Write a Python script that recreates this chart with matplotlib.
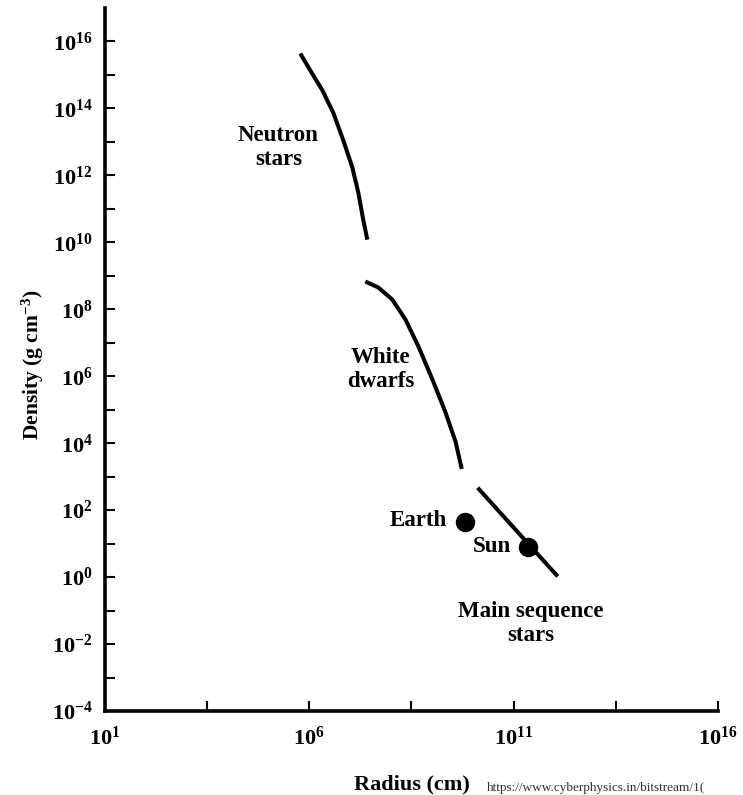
import numpy as np
import matplotlib.pyplot as plt
from matplotlib.ticker import FixedLocator, NullFormatter

plt.rcParams['font.family'] = 'Liberation Serif'
plt.rcParams['font.weight'] = 'bold'
plt.rcParams['axes.labelweight'] = 'bold'
plt.rcParams['axes.unicode_minus'] = False
plt.rcParams['mathtext.fontset'] = 'custom'
plt.rcParams['mathtext.rm'] = 'Liberation Serif:bold'
plt.rcParams['mathtext.it'] = 'Liberation Serif:bold'
plt.rcParams['mathtext.bf'] = 'Liberation Serif:bold'

# curves, as log10(radius), log10(density)
neutron_logr = [5.78, 6.02, 6.32, 6.59, 6.83, 7.05, 7.20, 7.32, 7.42]
neutron_logd = [15.64, 15.14, 14.54, 13.86, 13.05, 12.25, 11.48, 10.67, 10.08]

dwarf_logr = [7.37, 7.69, 8.03, 8.35, 8.67, 9.01, 9.33, 9.58, 9.73]
dwarf_logd = [8.83, 8.65, 8.29, 7.70, 6.89, 5.91, 4.93, 4.04, 3.23]

main_logr = [10.12, 12.08]
main_logd = [2.67, 0.02]

# single objects
bodies = ['Earth', 'Sun']
bodies_logr = [9.82, 11.34]
bodies_logd = [1.65, 0.91]

fig = plt.figure(figsize=(7.43, 7.95), dpi=100)
ax = fig.add_axes([0.1413, 0.1056, 0.8250, 0.8844])

lw = 2.9
for lr, ld in [(neutron_logr, neutron_logd), (dwarf_logr, dwarf_logd), (main_logr, main_logd)]:
    ax.plot(10.0**np.array(lr), 10.0**np.array(ld), color='black', lw=lw,
            solid_capstyle='butt', solid_joinstyle='round')
ax.plot(10.0**np.array(bodies_logr), 10.0**np.array(bodies_logd), 'o', color='black', ms=13, ls='none')

ax.set_xscale('log')
ax.set_yscale('log')
ax.set_xlim(1e1, 1e16)
ax.set_ylim(1e-4, 10**17.0)

# labels on the curves
fs = 16.5
ax.text(10**5.24, 10**12.82, 'Neutron\nstars', ha='center', va='center', fontsize=fs, linespacing=1.2)
ax.text(10**7.74, 10**6.21, 'White\ndwarfs', ha='center', va='center', fontsize=fs, linespacing=1.2)
ax.text(10**9.36, 10**1.68, 'Earth', ha='right', va='center', fontsize=fs)
ax.text(10**10.93, 10**0.91, 'Sun', ha='right', va='center', fontsize=fs)
ax.text(10**11.42, 10**-1.38, 'Main sequence\nstars', ha='center', va='center', fontsize=fs, linespacing=1.2)

# axes styling
for s in ['top', 'right']:
    ax.spines[s].set_visible(False)
for s in ['left', 'bottom']:
    ax.spines[s].set_linewidth(2.6)
    ax.spines[s].set_capstyle('projecting')

x_major = [1e1, 1e6, 1e11, 1e16]
x_minor = [10**3.5, 10**8.5, 10**13.5]
y_major = [10.0**k for k in range(-4, 17, 2)]
y_minor = [10.0**k for k in range(-3, 17, 2)]

ax.xaxis.set_major_locator(FixedLocator(x_major))
ax.xaxis.set_minor_locator(FixedLocator(x_minor))
ax.yaxis.set_major_locator(FixedLocator(y_major))
ax.yaxis.set_minor_locator(FixedLocator(y_minor))
ax.set_xticklabels([r'$10^{%d}$' % k for k in [1, 6, 11, 16]])
ax.set_yticklabels([r'$10^{%d}$' % k for k in range(-4, 17, 2)])
ax.xaxis.set_minor_formatter(NullFormatter())
ax.yaxis.set_minor_formatter(NullFormatter())

ax.tick_params(which='both', direction='in', length=7, width=1.5, labelsize=16)
ax.tick_params(axis='x', which='both', pad=11)
ax.tick_params(axis='y', which='both', pad=9)

ax.set_xlabel('Radius (cm)', fontsize=16, fontweight='bold')
ax.set_ylabel(r'Density (g cm$^{-3}$)', fontsize=15.5, fontweight='bold')
ax.xaxis.set_label_coords(0.5, -0.09)
ax.yaxis.set_label_coords(-0.097, 0.492)

# source url at the bottom edge
fig.text(0.655, 0.001, 'https://www.cyberphysics.in/bitstream/1(', fontsize=9.5,
         color='#333333', fontweight='normal', ha='left', va='bottom')

fig.savefig('out.png', dpi=100)
